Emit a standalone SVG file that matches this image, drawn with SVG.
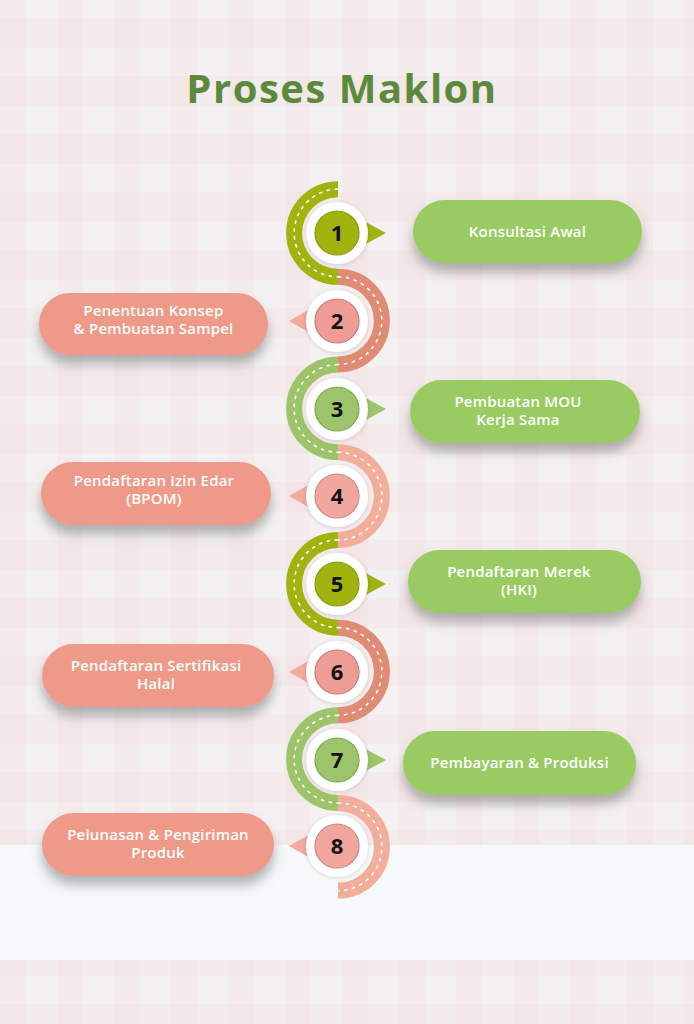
<svg xmlns="http://www.w3.org/2000/svg" width="694" height="1024" viewBox="0 0 694 1024">
<defs>
<pattern id="ging" width="57" height="58" patternUnits="userSpaceOnUse">
<rect width="57" height="58" fill="#f3f1f2"/>
<rect x="0" y="18" width="57" height="30" fill="#efd6d7" opacity="0.22"/>
<rect x="0" y="0" width="26" height="58" fill="#efd6d7" opacity="0.22"/>
</pattern>
<filter id="sh" x="-20%" y="-30%" width="140%" height="190%">
<feDropShadow dx="0" dy="9" stdDeviation="6" flood-color="#5a5f60" flood-opacity="0.45"/>
</filter>
<filter id="csh" x="-30%" y="-30%" width="160%" height="160%">
<feDropShadow dx="0" dy="1" stdDeviation="2" flood-color="#000" flood-opacity="0.15"/>
</filter>
<style>
.band{fill:none;stroke-width:16;stroke-linecap:butt}
.dash{fill:none;stroke:#fff;stroke-width:1.6;stroke-dasharray:3.5 4.5}
.wc{fill:#fff;filter:url(#csh)}
.num{font-family:"Open Sans","DejaVu Sans",sans-serif;font-weight:bold;font-size:22px;fill:#111;text-anchor:middle}
.box text{font-family:"Open Sans",Lato,sans-serif;font-weight:600;font-size:15px;fill:#fff;text-anchor:middle;letter-spacing:0.2px}
.g{fill:#9acb62}
.p{fill:#ef9a88}
</style>
</defs>
<rect width="694" height="1024" fill="url(#ging)"/>
<rect x="0" y="845" width="694" height="115" fill="#f6f9fa"/>
<text x="342" y="103" font-family="'Open Sans',Lato,sans-serif" font-weight="bold" font-size="40" letter-spacing="1.5" fill="#5b8a3c" text-anchor="middle">Proses Maklon</text>

<g id="connectors">
<path class="band" stroke="#a0b30f" d="M338 189.15 A43.85 43.85 0 0 0 338 276.85"/>
<path class="dash" d="M338 189.15 A43.85 43.85 0 0 0 338 276.85"/>
<path class="band" stroke="#e08b73" d="M338 276.85 A43.85 43.85 0 0 1 338 364.55"/>
<path class="dash" d="M338 276.85 A43.85 43.85 0 0 1 338 364.55"/>
<path class="band" stroke="#9dc46a" d="M338 364.55 A43.85 43.85 0 0 0 338 452.25"/>
<path class="dash" d="M338 364.55 A43.85 43.85 0 0 0 338 452.25"/>
<path class="band" stroke="#f3ae9b" d="M338 452.25 A43.85 43.85 0 0 1 338 539.95"/>
<path class="dash" d="M338 452.25 A43.85 43.85 0 0 1 338 539.95"/>
<path class="band" stroke="#a0b30f" d="M338 539.95 A43.85 43.85 0 0 0 338 627.65"/>
<path class="dash" d="M338 539.95 A43.85 43.85 0 0 0 338 627.65"/>
<path class="band" stroke="#e08b73" d="M338 627.65 A43.85 43.85 0 0 1 338 715.35"/>
<path class="dash" d="M338 627.65 A43.85 43.85 0 0 1 338 715.35"/>
<path class="band" stroke="#9dc46a" d="M338 715.35 A43.85 43.85 0 0 0 338 803.05"/>
<path class="dash" d="M338 715.35 A43.85 43.85 0 0 0 338 803.05"/>
<path class="band" stroke="#f3ae9b" d="M338 803.05 A43.85 43.85 0 0 1 338 890.75"/>
<path class="dash" d="M338 803.05 A43.85 43.85 0 0 1 338 890.75"/>
</g>

<g id="step1">
<polygon points="362,220 386,233 362,246" fill="#a0b30f"/>
<circle class="wc" cx="337" cy="233" r="31"/>
<circle cx="337" cy="233" r="22" fill="#a0b30f" stroke="#8a9a10" stroke-width="1.2"/>
<text class="num" x="337" y="241">1</text>
</g>
<g id="step2">
<polygon points="312,308 289,321 312,334" fill="#f4aa9d"/>
<circle class="wc" cx="337" cy="321" r="31"/>
<circle cx="337" cy="321" r="22" fill="#ee9d96" stroke="#c57a75" stroke-width="1.2"/>
<text class="num" x="337" y="329">2</text>
</g>
<g id="step3">
<polygon points="362,396 386,409 362,422" fill="#9dc46a"/>
<circle class="wc" cx="337" cy="409" r="31"/>
<circle cx="337" cy="409" r="22" fill="#9dc46a" stroke="#7fa553" stroke-width="1.2"/>
<text class="num" x="337" y="417">3</text>
</g>
<g id="step4">
<polygon points="312,483 289,496 312,509" fill="#f4aa9d"/>
<circle class="wc" cx="337" cy="496" r="31"/>
<circle cx="337" cy="496" r="22" fill="#f1a7a0" stroke="#c98882" stroke-width="1.2"/>
<text class="num" x="337" y="504">4</text>
</g>
<g id="step5">
<polygon points="362,571 386,584 362,597" fill="#a0b30f"/>
<circle class="wc" cx="337" cy="584" r="31"/>
<circle cx="337" cy="584" r="22" fill="#a0b30f" stroke="#8a9a10" stroke-width="1.2"/>
<text class="num" x="337" y="592">5</text>
</g>
<g id="step6">
<polygon points="312,659 289,672 312,685" fill="#f4aa9d"/>
<circle class="wc" cx="337" cy="672" r="31"/>
<circle cx="337" cy="672" r="22" fill="#ee9d96" stroke="#c57a75" stroke-width="1.2"/>
<text class="num" x="337" y="680">6</text>
</g>
<g id="step7">
<polygon points="362,747 386,760 362,773" fill="#9dc46a"/>
<circle class="wc" cx="337" cy="760" r="31"/>
<circle cx="337" cy="760" r="22" fill="#9dc46a" stroke="#7fa553" stroke-width="1.2"/>
<text class="num" x="337" y="768">7</text>
</g>
<g id="step8">
<polygon points="312,833 289,846 312,859" fill="#f4aa9d"/>
<circle class="wc" cx="337" cy="846" r="31"/>
<circle cx="337" cy="846" r="22" fill="#f0a59d" stroke="#c98882" stroke-width="1.2"/>
<text class="num" x="337" y="854">8</text>
</g>

<g id="box1" class="box">
<rect class="g" x="413" y="200" width="229" height="63" rx="31.5" filter="url(#sh)"/>
<text x="527.5" y="237">Konsultasi Awal</text>
</g>
<g id="box2" class="box">
<rect class="p" x="39" y="293" width="229" height="62" rx="31" filter="url(#sh)"/>
<text x="153.5" y="316">Penentuan Konsep</text>
<text x="153.5" y="334">&amp; Pembuatan Sampel</text>
</g>
<g id="box3" class="box">
<rect class="g" x="410" y="380" width="230" height="63" rx="31.5" filter="url(#sh)"/>
<text x="518" y="407">Pembuatan MOU</text>
<text x="518" y="425">Kerja Sama</text>
</g>
<g id="box4" class="box">
<rect class="p" x="41" y="462" width="230" height="63" rx="31.5" filter="url(#sh)"/>
<text x="154" y="486">Pendaftaran Izin Edar</text>
<text x="154" y="504">(BPOM)</text>
</g>
<g id="box5" class="box">
<rect class="g" x="408" y="550" width="233" height="63" rx="31.5" filter="url(#sh)"/>
<text x="519" y="577">Pendaftaran Merek</text>
<text x="519" y="595">(HKI)</text>
</g>
<g id="box6" class="box">
<rect class="p" x="42" y="644" width="232" height="63" rx="31.5" filter="url(#sh)"/>
<text x="156" y="671">Pendaftaran Sertifikasi</text>
<text x="156" y="689">Halal</text>
</g>
<g id="box7" class="box">
<rect class="g" x="403" y="731" width="233" height="64" rx="32" filter="url(#sh)"/>
<text x="519.5" y="768">Pembayaran &amp; Produksi</text>
</g>
<g id="box8" class="box">
<rect class="p" x="42" y="813" width="232" height="63" rx="31.5" filter="url(#sh)"/>
<text x="158" y="840">Pelunasan &amp; Pengiriman</text>
<text x="158" y="858">Produk</text>
</g>
</svg>
